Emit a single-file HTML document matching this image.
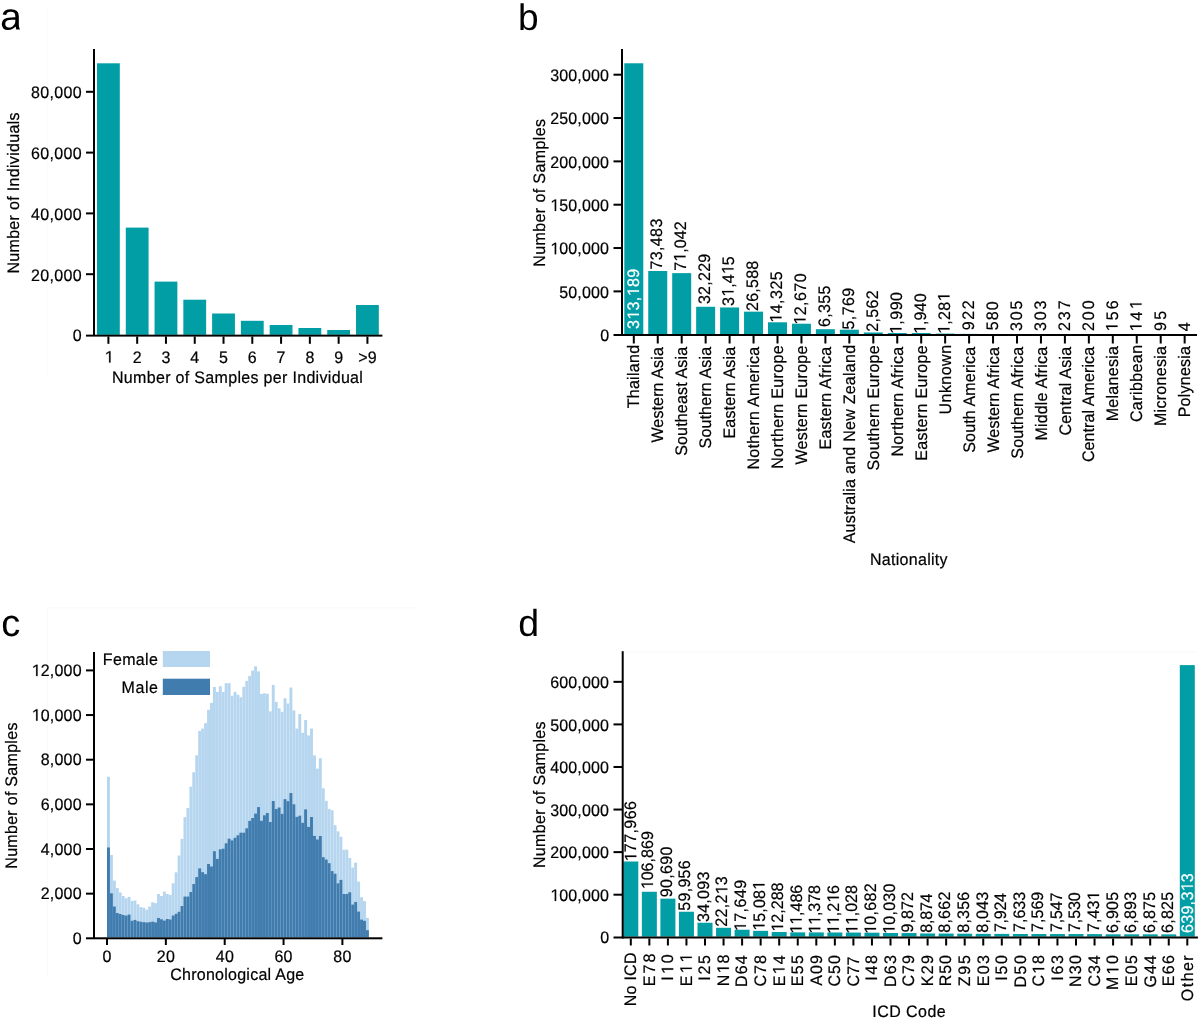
<!DOCTYPE html>
<html><head><meta charset="utf-8"><style>
html,body{margin:0;padding:0;background:#fff;}
svg{display:block;will-change:transform;}
text{font-family:"Liberation Sans",sans-serif;text-rendering:geometricPrecision;}
</style></head><body>
<svg width="1200" height="1020" viewBox="0 0 1200 1020">
<rect x="0" y="0" width="1200" height="1020" fill="#ffffff"/>
<rect x="46.60" y="6.00" width="1.00" height="370.50" fill="#fafafa"/>
<rect x="47.00" y="608.00" width="1.00" height="370.00" fill="#fafafa"/>
<rect x="47.50" y="607.40" width="370.50" height="1.00" fill="#f9f9f9"/>
<rect x="623.50" y="651.60" width="573.50" height="1.00" fill="#f7f7f7"/>
<path transform="translate(0.1,29.6) scale(0.019111,-0.018555)" d="M414 -20Q251 -20 169.0 66.0Q87 152 87 302Q87 470 197.5 560.0Q308 650 554 656L797 660V719Q797 851 741.0 908.0Q685 965 565 965Q444 965 389.0 924.0Q334 883 323 793L135 810Q181 1102 569 1102Q773 1102 876.0 1008.5Q979 915 979 738V250Q979 110 1040 0H850Q826 55 818 150H797Q728 83 636.5 31.5Q545 -20 414 -20ZM455 115Q554 115 631.0 160.0Q708 205 752.5 283.5Q797 362 797 445V534L600 530Q473 528 407.5 504.0Q342 480 307.0 430.0Q272 380 272 299Q272 211 319.5 163.0Q367 115 455 115Z"/>
<text x="517.9" y="29.6" font-size="37">b</text>
<text x="1.3" y="636.4" font-size="38">c</text>
<text x="518.3" y="635.7" font-size="37.5">d</text>
<rect x="97.00" y="63.30" width="22.80" height="271.50" fill="#029ea5"/>
<rect x="107.40" y="336.50" width="2.00" height="7.30" fill="#000"/>
<text transform="translate(104.55,362.60) scale(1,1.04)" font-size="16" fill="#000" stroke="#000" stroke-width="0.2" letter-spacing="0.300"> </text>
<path transform="translate(104.55,362.60) scale(1,1.04) translate(0.000,0) scale(0.007812,-0.007812)" d="M583 0L763 0L763 1409L598 1409L223 1180L223 1010L583 1237Z" fill="#000" stroke="#000" stroke-width="25.6"/>
<rect x="125.78" y="227.60" width="22.80" height="107.20" fill="#029ea5"/>
<rect x="136.18" y="336.50" width="2.00" height="7.30" fill="#000"/>
<text transform="translate(132.73,362.60) scale(1,1.04)" font-size="16" fill="#000" stroke="#000" stroke-width="0.2" letter-spacing="0.300">2</text>
<rect x="154.56" y="281.60" width="22.80" height="53.20" fill="#029ea5"/>
<rect x="164.96" y="336.50" width="2.00" height="7.30" fill="#000"/>
<text transform="translate(161.56,362.60) scale(1,1.04)" font-size="16" fill="#000" stroke="#000" stroke-width="0.2" letter-spacing="0.300">3</text>
<rect x="183.34" y="299.70" width="22.80" height="35.10" fill="#029ea5"/>
<rect x="193.74" y="336.50" width="2.00" height="7.30" fill="#000"/>
<text transform="translate(190.34,362.60) scale(1,1.04)" font-size="16" fill="#000" stroke="#000" stroke-width="0.2" letter-spacing="0.300">4</text>
<rect x="212.12" y="313.50" width="22.80" height="21.30" fill="#029ea5"/>
<rect x="222.52" y="336.50" width="2.00" height="7.30" fill="#000"/>
<text transform="translate(219.09,362.60) scale(1,1.04)" font-size="16" fill="#000" stroke="#000" stroke-width="0.2" letter-spacing="0.300">5</text>
<rect x="240.90" y="320.80" width="22.80" height="14.00" fill="#029ea5"/>
<rect x="251.30" y="336.50" width="2.00" height="7.30" fill="#000"/>
<text transform="translate(247.80,362.60) scale(1,1.04)" font-size="16" fill="#000" stroke="#000" stroke-width="0.2" letter-spacing="0.300">6</text>
<rect x="269.68" y="325.00" width="22.80" height="9.80" fill="#029ea5"/>
<rect x="280.08" y="336.50" width="2.00" height="7.30" fill="#000"/>
<text transform="translate(276.62,362.60) scale(1,1.04)" font-size="16" fill="#000" stroke="#000" stroke-width="0.2" letter-spacing="0.300">7</text>
<rect x="298.46" y="328.00" width="22.80" height="6.80" fill="#029ea5"/>
<rect x="308.86" y="336.50" width="2.00" height="7.30" fill="#000"/>
<text transform="translate(305.41,362.60) scale(1,1.04)" font-size="16" fill="#000" stroke="#000" stroke-width="0.2" letter-spacing="0.300">8</text>
<rect x="327.24" y="330.00" width="22.80" height="4.80" fill="#029ea5"/>
<rect x="337.64" y="336.50" width="2.00" height="7.30" fill="#000"/>
<text transform="translate(334.19,362.60) scale(1,1.04)" font-size="16" fill="#000" stroke="#000" stroke-width="0.2" letter-spacing="0.300">9</text>
<rect x="356.02" y="305.00" width="22.80" height="29.80" fill="#029ea5"/>
<rect x="366.42" y="336.50" width="2.00" height="7.30" fill="#000"/>
<text transform="translate(358.13,362.60) scale(1,1.04)" font-size="16" fill="#000" stroke="#000" stroke-width="0.2" letter-spacing="0.300">&gt;9</text>
<rect x="93.00" y="49.00" width="2.00" height="287.00" fill="#000"/>
<rect x="86.00" y="334.65" width="296.40" height="1.95" fill="#000"/>
<rect x="86.00" y="273.20" width="8.00" height="2.00" fill="#000"/>
<text transform="translate(30.94,280.50) scale(1,1.04)" font-size="16" fill="#000" stroke="#000" stroke-width="0.2" letter-spacing="0.350">20,000</text>
<rect x="86.00" y="212.40" width="8.00" height="2.00" fill="#000"/>
<text transform="translate(30.94,219.70) scale(1,1.04)" font-size="16" fill="#000" stroke="#000" stroke-width="0.2" letter-spacing="0.350">40,000</text>
<rect x="86.00" y="151.60" width="8.00" height="2.00" fill="#000"/>
<text transform="translate(30.94,158.90) scale(1,1.04)" font-size="16" fill="#000" stroke="#000" stroke-width="0.2" letter-spacing="0.350">60,000</text>
<rect x="86.00" y="90.80" width="8.00" height="2.00" fill="#000"/>
<text transform="translate(30.94,98.10) scale(1,1.04)" font-size="16" fill="#000" stroke="#000" stroke-width="0.2" letter-spacing="0.350">80,000</text>
<text transform="translate(72.73,341.30) scale(1,1.04)" font-size="16" fill="#000" stroke="#000" stroke-width="0.2">0</text>
<text transform="translate(111.99,382.70) scale(1,1.04)" font-size="16" fill="#000" stroke="#000" stroke-width="0.2" letter-spacing="0.319">Number of Samples per Individual</text>
<text transform="translate(18.60,273.61) rotate(-90) scale(1,1.04)" font-size="16" fill="#000" stroke="#000" stroke-width="0.2" letter-spacing="0.322">Number of Individuals</text>
<rect x="624.30" y="63.27" width="19.00" height="270.93" fill="#029ea5"/>
<rect x="632.80" y="336.00" width="2.00" height="7.50" fill="#000"/>
<text transform="translate(639.40,408.36) rotate(-90) scale(1,1.04)" font-size="16" fill="#000" stroke="#000" stroke-width="0.2" letter-spacing="0.288">Thailand</text>
<text transform="translate(639.00,329.01) rotate(-90) scale(1,1.04)" font-size="16" fill="#ffffff" stroke="#ffffff" stroke-width="0.2" letter-spacing="0.389">3 3, 89</text>
<path transform="translate(639.00,329.01) rotate(-90) scale(1,1.04) translate(9.287,0) scale(0.007812,-0.007812)" d="M583 0L763 0L763 1409L598 1409L223 1180L223 1010L583 1237Z" fill="#ffffff" stroke="#ffffff" stroke-width="25.6"/>
<path transform="translate(639.00,329.01) rotate(-90) scale(1,1.04) translate(32.695,0) scale(0.007812,-0.007812)" d="M583 0L763 0L763 1409L598 1409L223 1180L223 1010L583 1237Z" fill="#ffffff" stroke="#ffffff" stroke-width="25.6"/>
<rect x="648.25" y="271.01" width="19.00" height="63.19" fill="#029ea5"/>
<rect x="656.75" y="336.00" width="2.00" height="7.50" fill="#000"/>
<text transform="translate(663.35,442.57) rotate(-90) scale(1,1.04)" font-size="16" fill="#000" stroke="#000" stroke-width="0.2" letter-spacing="0.130">Western Asia</text>
<text transform="translate(661.50,269.62) rotate(-90) scale(1,1.04)" font-size="16" fill="#000" stroke="#000" stroke-width="0.2" letter-spacing="0.397">73,483</text>
<rect x="672.20" y="273.13" width="19.00" height="61.07" fill="#029ea5"/>
<rect x="680.70" y="336.00" width="2.00" height="7.50" fill="#000"/>
<text transform="translate(687.30,455.83) rotate(-90) scale(1,1.04)" font-size="16" fill="#000" stroke="#000" stroke-width="0.2" letter-spacing="0.169">Southeast Asia</text>
<text transform="translate(685.50,270.82) rotate(-90) scale(1,1.04)" font-size="16" fill="#000" stroke="#000" stroke-width="0.2" letter-spacing="0.098">7 ,042</text>
<path transform="translate(685.50,270.82) rotate(-90) scale(1,1.04) translate(8.996,0) scale(0.007812,-0.007812)" d="M583 0L763 0L763 1409L598 1409L223 1180L223 1010L583 1237Z" fill="#000" stroke="#000" stroke-width="25.6"/>
<rect x="696.15" y="306.77" width="19.00" height="27.43" fill="#029ea5"/>
<rect x="704.65" y="336.00" width="2.00" height="7.50" fill="#000"/>
<text transform="translate(711.25,448.43) rotate(-90) scale(1,1.04)" font-size="16" fill="#000" stroke="#000" stroke-width="0.2" letter-spacing="0.160">Southern Asia</text>
<text transform="translate(709.51,304.11) rotate(-90) scale(1,1.04)" font-size="16" fill="#000" stroke="#000" stroke-width="0.2" letter-spacing="0.286">32,229</text>
<rect x="720.10" y="307.47" width="19.00" height="26.73" fill="#029ea5"/>
<rect x="728.60" y="336.00" width="2.00" height="7.50" fill="#000"/>
<text transform="translate(735.20,438.51) rotate(-90) scale(1,1.04)" font-size="16" fill="#000" stroke="#000" stroke-width="0.2" letter-spacing="0.164">Eastern Asia</text>
<text transform="translate(733.51,305.91) rotate(-90) scale(1,1.04)" font-size="16" fill="#000" stroke="#000" stroke-width="0.2" letter-spacing="0.149">3 ,4 5</text>
<path transform="translate(733.51,305.91) rotate(-90) scale(1,1.04) translate(9.047,0) scale(0.007812,-0.007812)" d="M583 0L763 0L763 1409L598 1409L223 1180L223 1010L583 1237Z" fill="#000" stroke="#000" stroke-width="25.6"/>
<path transform="translate(733.51,305.91) rotate(-90) scale(1,1.04) translate(31.736,0) scale(0.007812,-0.007812)" d="M583 0L763 0L763 1409L598 1409L223 1180L223 1010L583 1237Z" fill="#000" stroke="#000" stroke-width="25.6"/>
<rect x="744.05" y="311.66" width="19.00" height="22.54" fill="#029ea5"/>
<rect x="752.55" y="336.00" width="2.00" height="7.50" fill="#000"/>
<text transform="translate(759.15,469.51) rotate(-90) scale(1,1.04)" font-size="16" fill="#000" stroke="#000" stroke-width="0.2" letter-spacing="0.248">Nothern America</text>
<text transform="translate(757.51,311.00) rotate(-90) scale(1,1.04)" font-size="16" fill="#000" stroke="#000" stroke-width="0.2" letter-spacing="0.252">26,588</text>
<rect x="768.00" y="322.28" width="19.00" height="11.92" fill="#029ea5"/>
<rect x="776.50" y="336.00" width="2.00" height="7.50" fill="#000"/>
<text transform="translate(783.10,468.81) rotate(-90) scale(1,1.04)" font-size="16" fill="#000" stroke="#000" stroke-width="0.2" letter-spacing="0.374">Northern Europe</text>
<text transform="translate(781.51,322.74) rotate(-90) scale(1,1.04)" font-size="16" fill="#000" stroke="#000" stroke-width="0.2" letter-spacing="0.495"> 4,325</text>
<path transform="translate(781.51,322.74) rotate(-90) scale(1,1.04) translate(0.000,0) scale(0.007812,-0.007812)" d="M583 0L763 0L763 1409L598 1409L223 1180L223 1010L583 1237Z" fill="#000" stroke="#000" stroke-width="25.6"/>
<rect x="791.95" y="323.72" width="19.00" height="10.48" fill="#029ea5"/>
<rect x="800.45" y="336.00" width="2.00" height="7.50" fill="#000"/>
<text transform="translate(807.05,464.57) rotate(-90) scale(1,1.04)" font-size="16" fill="#000" stroke="#000" stroke-width="0.2" letter-spacing="0.282">Western Europe</text>
<text transform="translate(805.52,324.74) rotate(-90) scale(1,1.04)" font-size="16" fill="#000" stroke="#000" stroke-width="0.2" letter-spacing="0.486"> 2,670</text>
<path transform="translate(805.52,324.74) rotate(-90) scale(1,1.04) translate(0.000,0) scale(0.007812,-0.007812)" d="M583 0L763 0L763 1409L598 1409L223 1180L223 1010L583 1237Z" fill="#000" stroke="#000" stroke-width="25.6"/>
<rect x="815.90" y="329.19" width="19.00" height="5.01" fill="#029ea5"/>
<rect x="824.40" y="336.00" width="2.00" height="7.50" fill="#000"/>
<text transform="translate(831.00,449.41) rotate(-90) scale(1,1.04)" font-size="16" fill="#000" stroke="#000" stroke-width="0.2" letter-spacing="0.225">Eastern Africa</text>
<text transform="translate(829.52,327.01) rotate(-90) scale(1,1.04)" font-size="16" fill="#000" stroke="#000" stroke-width="0.2" letter-spacing="0.361">6,355</text>
<rect x="839.85" y="329.70" width="19.00" height="4.50" fill="#029ea5"/>
<rect x="848.35" y="336.00" width="2.00" height="7.50" fill="#000"/>
<text transform="translate(854.95,543.33) rotate(-90) scale(1,1.04)" font-size="16" fill="#000" stroke="#000" stroke-width="0.2" letter-spacing="0.261">Australia and New Zealand</text>
<text transform="translate(853.52,329.44) rotate(-90) scale(1,1.04)" font-size="16" fill="#000" stroke="#000" stroke-width="0.2" letter-spacing="0.415">5,769</text>
<rect x="863.80" y="332.48" width="19.00" height="1.72" fill="#029ea5"/>
<rect x="872.30" y="336.00" width="2.00" height="7.50" fill="#000"/>
<text transform="translate(878.90,470.53) rotate(-90) scale(1,1.04)" font-size="16" fill="#000" stroke="#000" stroke-width="0.2" letter-spacing="0.304">Southern Europe</text>
<text transform="translate(877.52,331.70) rotate(-90) scale(1,1.04)" font-size="16" fill="#000" stroke="#000" stroke-width="0.2" letter-spacing="0.318">2,562</text>
<rect x="887.75" y="332.98" width="19.00" height="1.22" fill="#029ea5"/>
<rect x="896.25" y="336.00" width="2.00" height="7.50" fill="#000"/>
<text transform="translate(902.85,456.51) rotate(-90) scale(1,1.04)" font-size="16" fill="#000" stroke="#000" stroke-width="0.2" letter-spacing="0.208">Northern Africa</text>
<text transform="translate(901.52,334.04) rotate(-90) scale(1,1.04)" font-size="16" fill="#000" stroke="#000" stroke-width="0.2" letter-spacing="0.482"> ,990</text>
<path transform="translate(901.52,334.04) rotate(-90) scale(1,1.04) translate(0.000,0) scale(0.007812,-0.007812)" d="M583 0L763 0L763 1409L598 1409L223 1180L223 1010L583 1237Z" fill="#000" stroke="#000" stroke-width="25.6"/>
<rect x="911.70" y="333.02" width="19.00" height="1.18" fill="#029ea5"/>
<rect x="920.20" y="336.00" width="2.00" height="7.50" fill="#000"/>
<text transform="translate(926.80,460.81) rotate(-90) scale(1,1.04)" font-size="16" fill="#000" stroke="#000" stroke-width="0.2" letter-spacing="0.334">Eastern Europe</text>
<text transform="translate(925.53,334.04) rotate(-90) scale(1,1.04)" font-size="16" fill="#000" stroke="#000" stroke-width="0.2" letter-spacing="0.132"> ,940</text>
<path transform="translate(925.53,334.04) rotate(-90) scale(1,1.04) translate(0.000,0) scale(0.007812,-0.007812)" d="M583 0L763 0L763 1409L598 1409L223 1180L223 1010L583 1237Z" fill="#000" stroke="#000" stroke-width="25.6"/>
<rect x="935.65" y="333.59" width="19.00" height="0.61" fill="#029ea5"/>
<rect x="944.15" y="336.00" width="2.00" height="7.50" fill="#000"/>
<text transform="translate(950.75,414.53) rotate(-90) scale(1,1.04)" font-size="16" fill="#000" stroke="#000" stroke-width="0.2" letter-spacing="0.478">Unknown</text>
<text transform="translate(949.53,334.04) rotate(-90) scale(1,1.04)" font-size="16" fill="#000" stroke="#000" stroke-width="0.2" letter-spacing="0.360"> ,28 </text>
<path transform="translate(949.53,334.04) rotate(-90) scale(1,1.04) translate(0.000,0) scale(0.007812,-0.007812)" d="M583 0L763 0L763 1409L598 1409L223 1180L223 1010L583 1237Z" fill="#000" stroke="#000" stroke-width="25.6"/>
<path transform="translate(949.53,334.04) rotate(-90) scale(1,1.04) translate(32.582,0) scale(0.007812,-0.007812)" d="M583 0L763 0L763 1409L598 1409L223 1180L223 1010L583 1237Z" fill="#000" stroke="#000" stroke-width="25.6"/>
<rect x="959.60" y="333.90" width="19.00" height="0.30" fill="#029ea5"/>
<rect x="968.10" y="336.00" width="2.00" height="7.50" fill="#000"/>
<text transform="translate(974.70,452.73) rotate(-90) scale(1,1.04)" font-size="16" fill="#000" stroke="#000" stroke-width="0.2" letter-spacing="0.149">South America</text>
<text transform="translate(973.53,330.25) rotate(-90) scale(1,1.04)" font-size="16" fill="#000" stroke="#000" stroke-width="0.2" letter-spacing="1.580">922</text>
<rect x="983.55" y="334.20" width="19.00" height="0.00" fill="#029ea5"/>
<rect x="992.05" y="336.00" width="2.00" height="7.50" fill="#000"/>
<text transform="translate(998.65,452.57) rotate(-90) scale(1,1.04)" font-size="16" fill="#000" stroke="#000" stroke-width="0.2" letter-spacing="0.127">Western Africa</text>
<text transform="translate(997.53,330.14) rotate(-90) scale(1,1.04)" font-size="16" fill="#000" stroke="#000" stroke-width="0.2" letter-spacing="1.085">580</text>
<rect x="1007.50" y="334.44" width="19.00" height="-0.24" fill="#029ea5"/>
<rect x="1016.00" y="336.00" width="2.00" height="7.50" fill="#000"/>
<text transform="translate(1022.60,458.63) rotate(-90) scale(1,1.04)" font-size="16" fill="#000" stroke="#000" stroke-width="0.2" letter-spacing="0.168">Southern Africa</text>
<text transform="translate(1021.53,330.91) rotate(-90) scale(1,1.04)" font-size="16" fill="#000" stroke="#000" stroke-width="0.2" letter-spacing="1.843">305</text>
<rect x="1031.45" y="334.44" width="19.00" height="-0.24" fill="#029ea5"/>
<rect x="1039.95" y="336.00" width="2.00" height="7.50" fill="#000"/>
<text transform="translate(1046.55,440.51) rotate(-90) scale(1,1.04)" font-size="16" fill="#000" stroke="#000" stroke-width="0.2" letter-spacing="0.170">Middle Africa</text>
<text transform="translate(1045.54,330.91) rotate(-90) scale(1,1.04)" font-size="16" fill="#000" stroke="#000" stroke-width="0.2" letter-spacing="1.859">303</text>
<rect x="1055.40" y="334.49" width="19.00" height="-0.29" fill="#029ea5"/>
<rect x="1063.90" y="336.00" width="2.00" height="7.50" fill="#000"/>
<text transform="translate(1070.50,435.51) rotate(-90) scale(1,1.04)" font-size="16" fill="#000" stroke="#000" stroke-width="0.2" letter-spacing="0.215">Central Asia</text>
<text transform="translate(1069.54,331.10) rotate(-90) scale(1,1.04)" font-size="16" fill="#000" stroke="#000" stroke-width="0.2" letter-spacing="2.007">237</text>
<rect x="1079.35" y="334.53" width="19.00" height="-0.33" fill="#029ea5"/>
<rect x="1087.85" y="336.00" width="2.00" height="7.50" fill="#000"/>
<text transform="translate(1094.45,462.11) rotate(-90) scale(1,1.04)" font-size="16" fill="#000" stroke="#000" stroke-width="0.2" letter-spacing="0.101">Central America</text>
<text transform="translate(1093.54,331.10) rotate(-90) scale(1,1.04)" font-size="16" fill="#000" stroke="#000" stroke-width="0.2" letter-spacing="1.967">200</text>
<rect x="1103.30" y="334.56" width="19.00" height="-0.36" fill="#029ea5"/>
<rect x="1111.80" y="336.00" width="2.00" height="7.50" fill="#000"/>
<text transform="translate(1118.40,421.31) rotate(-90) scale(1,1.04)" font-size="16" fill="#000" stroke="#000" stroke-width="0.2" letter-spacing="0.298">Melanesia</text>
<text transform="translate(1117.54,331.44) rotate(-90) scale(1,1.04)" font-size="16" fill="#000" stroke="#000" stroke-width="0.2" letter-spacing="2.175"> 56</text>
<path transform="translate(1117.54,331.44) rotate(-90) scale(1,1.04) translate(0.000,0) scale(0.007812,-0.007812)" d="M583 0L763 0L763 1409L598 1409L223 1180L223 1010L583 1237Z" fill="#000" stroke="#000" stroke-width="25.6"/>
<rect x="1127.25" y="334.58" width="19.00" height="-0.38" fill="#029ea5"/>
<rect x="1135.75" y="336.00" width="2.00" height="7.50" fill="#000"/>
<text transform="translate(1142.35,422.11) rotate(-90) scale(1,1.04)" font-size="16" fill="#000" stroke="#000" stroke-width="0.2" letter-spacing="0.415">Caribbean</text>
<text transform="translate(1141.55,331.44) rotate(-90) scale(1,1.04)" font-size="16" fill="#000" stroke="#000" stroke-width="0.2" letter-spacing="2.142"> 4 </text>
<path transform="translate(1141.55,331.44) rotate(-90) scale(1,1.04) translate(0.000,0) scale(0.007812,-0.007812)" d="M583 0L763 0L763 1409L598 1409L223 1180L223 1010L583 1237Z" fill="#000" stroke="#000" stroke-width="25.6"/>
<path transform="translate(1141.55,331.44) rotate(-90) scale(1,1.04) translate(22.082,0) scale(0.007812,-0.007812)" d="M583 0L763 0L763 1409L598 1409L223 1180L223 1010L583 1237Z" fill="#000" stroke="#000" stroke-width="25.6"/>
<rect x="1151.20" y="334.62" width="19.00" height="-0.42" fill="#029ea5"/>
<rect x="1159.70" y="336.00" width="2.00" height="7.50" fill="#000"/>
<text transform="translate(1166.30,426.11) rotate(-90) scale(1,1.04)" font-size="16" fill="#000" stroke="#000" stroke-width="0.2" letter-spacing="0.306">Micronesia</text>
<text transform="translate(1165.55,331.05) rotate(-90) scale(1,1.04)" font-size="16" fill="#000" stroke="#000" stroke-width="0.2" letter-spacing="2.325">95</text>
<rect x="1175.15" y="334.70" width="19.00" height="-0.50" fill="#029ea5"/>
<rect x="1183.65" y="336.00" width="2.00" height="7.50" fill="#000"/>
<text transform="translate(1190.25,417.31) rotate(-90) scale(1,1.04)" font-size="16" fill="#000" stroke="#000" stroke-width="0.2" letter-spacing="0.242">Polynesia</text>
<text transform="translate(1189.55,331.17) rotate(-90) scale(1,1.04)" font-size="16" fill="#000" stroke="#000" stroke-width="0.2">4</text>
<rect x="621.00" y="49.00" width="2.00" height="287.00" fill="#000"/>
<rect x="613.50" y="334.00" width="583.50" height="2.00" fill="#000"/>
<rect x="613.50" y="290.37" width="8.50" height="2.00" fill="#000"/>
<text transform="translate(559.24,297.57) scale(1,1.04)" font-size="16" fill="#000" stroke="#000" stroke-width="0.2" letter-spacing="0.150">50,000</text>
<rect x="613.50" y="247.03" width="8.50" height="2.00" fill="#000"/>
<text transform="translate(550.19,254.23) scale(1,1.04)" font-size="16" fill="#000" stroke="#000" stroke-width="0.2" letter-spacing="0.150"> 00,000</text>
<path transform="translate(550.19,254.23) scale(1,1.04) translate(0.000,0) scale(0.007812,-0.007812)" d="M583 0L763 0L763 1409L598 1409L223 1180L223 1010L583 1237Z" fill="#000" stroke="#000" stroke-width="25.6"/>
<rect x="613.50" y="203.70" width="8.50" height="2.00" fill="#000"/>
<text transform="translate(550.19,210.90) scale(1,1.04)" font-size="16" fill="#000" stroke="#000" stroke-width="0.2" letter-spacing="0.150"> 50,000</text>
<path transform="translate(550.19,210.90) scale(1,1.04) translate(0.000,0) scale(0.007812,-0.007812)" d="M583 0L763 0L763 1409L598 1409L223 1180L223 1010L583 1237Z" fill="#000" stroke="#000" stroke-width="25.6"/>
<rect x="613.50" y="160.37" width="8.50" height="2.00" fill="#000"/>
<text transform="translate(550.19,167.57) scale(1,1.04)" font-size="16" fill="#000" stroke="#000" stroke-width="0.2" letter-spacing="0.150">200,000</text>
<rect x="613.50" y="117.03" width="8.50" height="2.00" fill="#000"/>
<text transform="translate(550.19,124.23) scale(1,1.04)" font-size="16" fill="#000" stroke="#000" stroke-width="0.2" letter-spacing="0.150">250,000</text>
<rect x="613.50" y="73.70" width="8.50" height="2.00" fill="#000"/>
<text transform="translate(550.19,80.90) scale(1,1.04)" font-size="16" fill="#000" stroke="#000" stroke-width="0.2" letter-spacing="0.150">300,000</text>
<text transform="translate(600.13,340.90) scale(1,1.04)" font-size="16" fill="#000" stroke="#000" stroke-width="0.2">0</text>
<text transform="translate(869.99,564.70) scale(1,1.04)" font-size="16" fill="#000" stroke="#000" stroke-width="0.2" letter-spacing="0.284">Nationality</text>
<text transform="translate(544.60,266.71) rotate(-90) scale(1,1.04)" font-size="16" fill="#000" stroke="#000" stroke-width="0.2" letter-spacing="0.394">Number of Samples</text>
<rect x="107.00" y="776.80" width="2.94" height="160.50" fill="#b6d6f0"/>
<rect x="109.94" y="855.00" width="2.94" height="82.30" fill="#b6d6f0"/>
<rect x="112.89" y="880.60" width="2.94" height="56.70" fill="#b6d6f0"/>
<rect x="115.83" y="888.10" width="2.94" height="49.20" fill="#b6d6f0"/>
<rect x="118.77" y="892.50" width="2.94" height="44.80" fill="#b6d6f0"/>
<rect x="121.71" y="896.00" width="2.94" height="41.30" fill="#b6d6f0"/>
<rect x="124.66" y="898.30" width="2.94" height="39.00" fill="#b6d6f0"/>
<rect x="127.60" y="896.90" width="2.94" height="40.40" fill="#b6d6f0"/>
<rect x="130.54" y="900.90" width="2.94" height="36.40" fill="#b6d6f0"/>
<rect x="133.48" y="900.50" width="2.94" height="36.80" fill="#b6d6f0"/>
<rect x="136.43" y="904.30" width="2.94" height="33.00" fill="#b6d6f0"/>
<rect x="139.37" y="907.10" width="2.94" height="30.20" fill="#b6d6f0"/>
<rect x="142.31" y="907.80" width="2.94" height="29.50" fill="#b6d6f0"/>
<rect x="145.25" y="909.70" width="2.94" height="27.60" fill="#b6d6f0"/>
<rect x="148.19" y="906.60" width="2.94" height="30.70" fill="#b6d6f0"/>
<rect x="151.14" y="902.20" width="2.94" height="35.10" fill="#b6d6f0"/>
<rect x="154.08" y="903.10" width="2.94" height="34.20" fill="#b6d6f0"/>
<rect x="157.02" y="894.00" width="2.94" height="43.30" fill="#b6d6f0"/>
<rect x="159.97" y="896.00" width="2.94" height="41.30" fill="#b6d6f0"/>
<rect x="162.91" y="891.60" width="2.94" height="45.70" fill="#b6d6f0"/>
<rect x="165.85" y="894.00" width="2.94" height="43.30" fill="#b6d6f0"/>
<rect x="168.79" y="895.00" width="2.94" height="42.30" fill="#b6d6f0"/>
<rect x="171.74" y="883.30" width="2.94" height="54.00" fill="#b6d6f0"/>
<rect x="174.68" y="872.30" width="2.94" height="65.00" fill="#b6d6f0"/>
<rect x="177.62" y="855.50" width="2.94" height="81.80" fill="#b6d6f0"/>
<rect x="180.56" y="838.90" width="2.94" height="98.40" fill="#b6d6f0"/>
<rect x="183.50" y="817.20" width="2.94" height="120.10" fill="#b6d6f0"/>
<rect x="186.45" y="808.00" width="2.94" height="129.30" fill="#b6d6f0"/>
<rect x="189.39" y="786.70" width="2.94" height="150.60" fill="#b6d6f0"/>
<rect x="192.33" y="772.20" width="2.94" height="165.10" fill="#b6d6f0"/>
<rect x="195.27" y="755.30" width="2.94" height="182.00" fill="#b6d6f0"/>
<rect x="198.22" y="730.90" width="2.94" height="206.40" fill="#b6d6f0"/>
<rect x="201.16" y="728.60" width="2.94" height="208.70" fill="#b6d6f0"/>
<rect x="204.10" y="723.10" width="2.94" height="214.20" fill="#b6d6f0"/>
<rect x="207.05" y="709.80" width="2.94" height="227.50" fill="#b6d6f0"/>
<rect x="209.99" y="702.90" width="2.94" height="234.40" fill="#b6d6f0"/>
<rect x="212.93" y="687.00" width="2.94" height="250.30" fill="#b6d6f0"/>
<rect x="215.87" y="691.90" width="2.94" height="245.40" fill="#b6d6f0"/>
<rect x="218.81" y="686.20" width="2.94" height="251.10" fill="#b6d6f0"/>
<rect x="221.76" y="691.90" width="2.94" height="245.40" fill="#b6d6f0"/>
<rect x="224.70" y="683.20" width="2.94" height="254.10" fill="#b6d6f0"/>
<rect x="227.64" y="683.20" width="2.94" height="254.10" fill="#b6d6f0"/>
<rect x="230.58" y="695.80" width="2.94" height="241.50" fill="#b6d6f0"/>
<rect x="233.53" y="691.90" width="2.94" height="245.40" fill="#b6d6f0"/>
<rect x="236.47" y="694.80" width="2.94" height="242.50" fill="#b6d6f0"/>
<rect x="239.41" y="697.30" width="2.94" height="240.00" fill="#b6d6f0"/>
<rect x="242.35" y="686.80" width="2.94" height="250.50" fill="#b6d6f0"/>
<rect x="245.30" y="680.90" width="2.94" height="256.40" fill="#b6d6f0"/>
<rect x="248.24" y="675.90" width="2.94" height="261.40" fill="#b6d6f0"/>
<rect x="251.18" y="670.60" width="2.94" height="266.70" fill="#b6d6f0"/>
<rect x="254.12" y="666.20" width="2.94" height="271.10" fill="#b6d6f0"/>
<rect x="257.07" y="671.40" width="2.94" height="265.90" fill="#b6d6f0"/>
<rect x="260.01" y="694.00" width="2.94" height="243.30" fill="#b6d6f0"/>
<rect x="262.95" y="693.20" width="2.94" height="244.10" fill="#b6d6f0"/>
<rect x="265.89" y="693.90" width="2.94" height="243.40" fill="#b6d6f0"/>
<rect x="268.84" y="711.40" width="2.94" height="225.90" fill="#b6d6f0"/>
<rect x="271.78" y="685.00" width="2.94" height="252.30" fill="#b6d6f0"/>
<rect x="274.72" y="701.90" width="2.94" height="235.40" fill="#b6d6f0"/>
<rect x="277.66" y="708.30" width="2.94" height="229.00" fill="#b6d6f0"/>
<rect x="280.61" y="711.80" width="2.94" height="225.50" fill="#b6d6f0"/>
<rect x="283.55" y="698.30" width="2.94" height="239.00" fill="#b6d6f0"/>
<rect x="286.49" y="703.50" width="2.94" height="233.80" fill="#b6d6f0"/>
<rect x="289.44" y="687.50" width="2.94" height="249.80" fill="#b6d6f0"/>
<rect x="292.38" y="710.40" width="2.94" height="226.90" fill="#b6d6f0"/>
<rect x="295.32" y="728.60" width="2.94" height="208.70" fill="#b6d6f0"/>
<rect x="298.26" y="714.10" width="2.94" height="223.20" fill="#b6d6f0"/>
<rect x="301.20" y="732.80" width="2.94" height="204.50" fill="#b6d6f0"/>
<rect x="304.15" y="720.00" width="2.94" height="217.30" fill="#b6d6f0"/>
<rect x="307.09" y="735.40" width="2.94" height="201.90" fill="#b6d6f0"/>
<rect x="310.03" y="728.60" width="2.94" height="208.70" fill="#b6d6f0"/>
<rect x="312.98" y="755.40" width="2.94" height="181.90" fill="#b6d6f0"/>
<rect x="315.92" y="768.70" width="2.94" height="168.60" fill="#b6d6f0"/>
<rect x="318.86" y="758.20" width="2.94" height="179.10" fill="#b6d6f0"/>
<rect x="321.80" y="788.30" width="2.94" height="149.00" fill="#b6d6f0"/>
<rect x="324.75" y="800.90" width="2.94" height="136.40" fill="#b6d6f0"/>
<rect x="327.69" y="809.00" width="2.94" height="128.30" fill="#b6d6f0"/>
<rect x="330.63" y="810.30" width="2.94" height="127.00" fill="#b6d6f0"/>
<rect x="333.57" y="825.20" width="2.94" height="112.10" fill="#b6d6f0"/>
<rect x="336.51" y="831.40" width="2.94" height="105.90" fill="#b6d6f0"/>
<rect x="339.46" y="836.70" width="2.94" height="100.60" fill="#b6d6f0"/>
<rect x="342.40" y="849.90" width="2.94" height="87.40" fill="#b6d6f0"/>
<rect x="345.34" y="849.60" width="2.94" height="87.70" fill="#b6d6f0"/>
<rect x="348.28" y="857.90" width="2.94" height="79.40" fill="#b6d6f0"/>
<rect x="351.23" y="867.60" width="2.94" height="69.70" fill="#b6d6f0"/>
<rect x="354.17" y="862.60" width="2.94" height="74.70" fill="#b6d6f0"/>
<rect x="357.11" y="881.70" width="2.94" height="55.60" fill="#b6d6f0"/>
<rect x="360.05" y="897.20" width="2.94" height="40.10" fill="#b6d6f0"/>
<rect x="363.00" y="901.10" width="2.94" height="36.20" fill="#b6d6f0"/>
<rect x="365.94" y="917.80" width="2.94" height="19.50" fill="#b6d6f0"/>
<rect x="107.00" y="847.50" width="2.94" height="89.80" fill="#407cae"/>
<rect x="109.94" y="893.30" width="2.94" height="44.00" fill="#407cae"/>
<rect x="112.89" y="906.50" width="2.94" height="30.80" fill="#407cae"/>
<rect x="115.83" y="913.00" width="2.94" height="24.30" fill="#407cae"/>
<rect x="118.77" y="914.00" width="2.94" height="23.30" fill="#407cae"/>
<rect x="121.71" y="915.00" width="2.94" height="22.30" fill="#407cae"/>
<rect x="124.66" y="915.60" width="2.94" height="21.70" fill="#407cae"/>
<rect x="127.60" y="914.60" width="2.94" height="22.70" fill="#407cae"/>
<rect x="130.54" y="920.80" width="2.94" height="16.50" fill="#407cae"/>
<rect x="133.48" y="919.90" width="2.94" height="17.40" fill="#407cae"/>
<rect x="136.43" y="921.20" width="2.94" height="16.10" fill="#407cae"/>
<rect x="139.37" y="921.80" width="2.94" height="15.50" fill="#407cae"/>
<rect x="142.31" y="922.20" width="2.94" height="15.10" fill="#407cae"/>
<rect x="145.25" y="922.50" width="2.94" height="14.80" fill="#407cae"/>
<rect x="148.19" y="922.20" width="2.94" height="15.10" fill="#407cae"/>
<rect x="151.14" y="921.70" width="2.94" height="15.60" fill="#407cae"/>
<rect x="154.08" y="922.40" width="2.94" height="14.90" fill="#407cae"/>
<rect x="157.02" y="918.00" width="2.94" height="19.30" fill="#407cae"/>
<rect x="159.97" y="919.30" width="2.94" height="18.00" fill="#407cae"/>
<rect x="162.91" y="920.60" width="2.94" height="16.70" fill="#407cae"/>
<rect x="165.85" y="919.00" width="2.94" height="18.30" fill="#407cae"/>
<rect x="168.79" y="919.50" width="2.94" height="17.80" fill="#407cae"/>
<rect x="171.74" y="915.50" width="2.94" height="21.80" fill="#407cae"/>
<rect x="174.68" y="913.80" width="2.94" height="23.50" fill="#407cae"/>
<rect x="177.62" y="911.80" width="2.94" height="25.50" fill="#407cae"/>
<rect x="180.56" y="906.00" width="2.94" height="31.30" fill="#407cae"/>
<rect x="183.50" y="896.60" width="2.94" height="40.70" fill="#407cae"/>
<rect x="186.45" y="896.60" width="2.94" height="40.70" fill="#407cae"/>
<rect x="189.39" y="892.00" width="2.94" height="45.30" fill="#407cae"/>
<rect x="192.33" y="884.00" width="2.94" height="53.30" fill="#407cae"/>
<rect x="195.27" y="877.10" width="2.94" height="60.20" fill="#407cae"/>
<rect x="198.22" y="868.40" width="2.94" height="68.90" fill="#407cae"/>
<rect x="201.16" y="872.20" width="2.94" height="65.10" fill="#407cae"/>
<rect x="204.10" y="874.20" width="2.94" height="63.10" fill="#407cae"/>
<rect x="207.05" y="864.00" width="2.94" height="73.30" fill="#407cae"/>
<rect x="209.99" y="866.50" width="2.94" height="70.80" fill="#407cae"/>
<rect x="212.93" y="851.20" width="2.94" height="86.10" fill="#407cae"/>
<rect x="215.87" y="858.90" width="2.94" height="78.40" fill="#407cae"/>
<rect x="218.81" y="849.30" width="2.94" height="88.00" fill="#407cae"/>
<rect x="221.76" y="848.70" width="2.94" height="88.60" fill="#407cae"/>
<rect x="224.70" y="843.30" width="2.94" height="94.00" fill="#407cae"/>
<rect x="227.64" y="838.70" width="2.94" height="98.60" fill="#407cae"/>
<rect x="230.58" y="840.40" width="2.94" height="96.90" fill="#407cae"/>
<rect x="233.53" y="837.80" width="2.94" height="99.50" fill="#407cae"/>
<rect x="236.47" y="835.30" width="2.94" height="102.00" fill="#407cae"/>
<rect x="239.41" y="832.70" width="2.94" height="104.60" fill="#407cae"/>
<rect x="242.35" y="832.70" width="2.94" height="104.60" fill="#407cae"/>
<rect x="245.30" y="828.30" width="2.94" height="109.00" fill="#407cae"/>
<rect x="248.24" y="820.90" width="2.94" height="116.40" fill="#407cae"/>
<rect x="251.18" y="818.00" width="2.94" height="119.30" fill="#407cae"/>
<rect x="254.12" y="813.60" width="2.94" height="123.70" fill="#407cae"/>
<rect x="257.07" y="807.10" width="2.94" height="130.20" fill="#407cae"/>
<rect x="260.01" y="820.80" width="2.94" height="116.50" fill="#407cae"/>
<rect x="262.95" y="815.30" width="2.94" height="122.00" fill="#407cae"/>
<rect x="265.89" y="813.00" width="2.94" height="124.30" fill="#407cae"/>
<rect x="268.84" y="822.00" width="2.94" height="115.30" fill="#407cae"/>
<rect x="271.78" y="801.00" width="2.94" height="136.30" fill="#407cae"/>
<rect x="274.72" y="809.00" width="2.94" height="128.30" fill="#407cae"/>
<rect x="277.66" y="807.50" width="2.94" height="129.80" fill="#407cae"/>
<rect x="280.61" y="813.90" width="2.94" height="123.40" fill="#407cae"/>
<rect x="283.55" y="799.20" width="2.94" height="138.10" fill="#407cae"/>
<rect x="286.49" y="801.20" width="2.94" height="136.10" fill="#407cae"/>
<rect x="289.44" y="793.00" width="2.94" height="144.30" fill="#407cae"/>
<rect x="292.38" y="804.30" width="2.94" height="133.00" fill="#407cae"/>
<rect x="295.32" y="816.90" width="2.94" height="120.40" fill="#407cae"/>
<rect x="298.26" y="815.70" width="2.94" height="121.60" fill="#407cae"/>
<rect x="301.20" y="822.80" width="2.94" height="114.50" fill="#407cae"/>
<rect x="304.15" y="809.40" width="2.94" height="127.90" fill="#407cae"/>
<rect x="307.09" y="826.90" width="2.94" height="110.40" fill="#407cae"/>
<rect x="310.03" y="817.00" width="2.94" height="120.30" fill="#407cae"/>
<rect x="312.98" y="835.90" width="2.94" height="101.40" fill="#407cae"/>
<rect x="315.92" y="839.50" width="2.94" height="97.80" fill="#407cae"/>
<rect x="318.86" y="836.00" width="2.94" height="101.30" fill="#407cae"/>
<rect x="321.80" y="857.20" width="2.94" height="80.10" fill="#407cae"/>
<rect x="324.75" y="859.60" width="2.94" height="77.70" fill="#407cae"/>
<rect x="327.69" y="863.20" width="2.94" height="74.10" fill="#407cae"/>
<rect x="330.63" y="871.10" width="2.94" height="66.20" fill="#407cae"/>
<rect x="333.57" y="873.70" width="2.94" height="63.60" fill="#407cae"/>
<rect x="336.51" y="883.40" width="2.94" height="53.90" fill="#407cae"/>
<rect x="339.46" y="879.90" width="2.94" height="57.40" fill="#407cae"/>
<rect x="342.40" y="894.00" width="2.94" height="43.30" fill="#407cae"/>
<rect x="345.34" y="894.00" width="2.94" height="43.30" fill="#407cae"/>
<rect x="348.28" y="892.30" width="2.94" height="45.00" fill="#407cae"/>
<rect x="351.23" y="904.60" width="2.94" height="32.70" fill="#407cae"/>
<rect x="354.17" y="902.00" width="2.94" height="35.30" fill="#407cae"/>
<rect x="357.11" y="911.60" width="2.94" height="25.70" fill="#407cae"/>
<rect x="360.05" y="919.60" width="2.94" height="17.70" fill="#407cae"/>
<rect x="363.00" y="920.80" width="2.94" height="16.50" fill="#407cae"/>
<rect x="365.94" y="930.20" width="2.94" height="7.10" fill="#407cae"/>
<rect x="109.69" y="855.00" width="0.50" height="82.30" fill="#ffffff" fill-opacity="0.08"/>
<rect x="112.64" y="880.60" width="0.50" height="56.70" fill="#ffffff" fill-opacity="0.08"/>
<rect x="115.58" y="888.10" width="0.50" height="49.20" fill="#ffffff" fill-opacity="0.08"/>
<rect x="118.52" y="892.50" width="0.50" height="44.80" fill="#ffffff" fill-opacity="0.08"/>
<rect x="121.46" y="896.00" width="0.50" height="41.30" fill="#ffffff" fill-opacity="0.08"/>
<rect x="124.41" y="898.30" width="0.50" height="39.00" fill="#ffffff" fill-opacity="0.08"/>
<rect x="127.35" y="898.30" width="0.50" height="39.00" fill="#ffffff" fill-opacity="0.08"/>
<rect x="130.29" y="900.90" width="0.50" height="36.40" fill="#ffffff" fill-opacity="0.08"/>
<rect x="133.23" y="900.90" width="0.50" height="36.40" fill="#ffffff" fill-opacity="0.08"/>
<rect x="136.18" y="904.30" width="0.50" height="33.00" fill="#ffffff" fill-opacity="0.08"/>
<rect x="139.12" y="907.10" width="0.50" height="30.20" fill="#ffffff" fill-opacity="0.08"/>
<rect x="142.06" y="907.80" width="0.50" height="29.50" fill="#ffffff" fill-opacity="0.08"/>
<rect x="145.00" y="909.70" width="0.50" height="27.60" fill="#ffffff" fill-opacity="0.08"/>
<rect x="147.94" y="909.70" width="0.50" height="27.60" fill="#ffffff" fill-opacity="0.08"/>
<rect x="150.89" y="906.60" width="0.50" height="30.70" fill="#ffffff" fill-opacity="0.08"/>
<rect x="153.83" y="903.10" width="0.50" height="34.20" fill="#ffffff" fill-opacity="0.08"/>
<rect x="156.77" y="903.10" width="0.50" height="34.20" fill="#ffffff" fill-opacity="0.08"/>
<rect x="159.72" y="896.00" width="0.50" height="41.30" fill="#ffffff" fill-opacity="0.08"/>
<rect x="162.66" y="896.00" width="0.50" height="41.30" fill="#ffffff" fill-opacity="0.08"/>
<rect x="165.60" y="894.00" width="0.50" height="43.30" fill="#ffffff" fill-opacity="0.08"/>
<rect x="168.54" y="895.00" width="0.50" height="42.30" fill="#ffffff" fill-opacity="0.08"/>
<rect x="171.49" y="895.00" width="0.50" height="42.30" fill="#ffffff" fill-opacity="0.08"/>
<rect x="174.43" y="883.30" width="0.50" height="54.00" fill="#ffffff" fill-opacity="0.08"/>
<rect x="177.37" y="872.30" width="0.50" height="65.00" fill="#ffffff" fill-opacity="0.08"/>
<rect x="180.31" y="855.50" width="0.50" height="81.80" fill="#ffffff" fill-opacity="0.08"/>
<rect x="183.25" y="838.90" width="0.50" height="98.40" fill="#ffffff" fill-opacity="0.08"/>
<rect x="186.20" y="817.20" width="0.50" height="120.10" fill="#ffffff" fill-opacity="0.08"/>
<rect x="189.14" y="808.00" width="0.50" height="129.30" fill="#ffffff" fill-opacity="0.08"/>
<rect x="192.08" y="786.70" width="0.50" height="150.60" fill="#ffffff" fill-opacity="0.08"/>
<rect x="195.02" y="772.20" width="0.50" height="165.10" fill="#ffffff" fill-opacity="0.08"/>
<rect x="197.97" y="755.30" width="0.50" height="182.00" fill="#ffffff" fill-opacity="0.08"/>
<rect x="200.91" y="730.90" width="0.50" height="206.40" fill="#ffffff" fill-opacity="0.08"/>
<rect x="203.85" y="728.60" width="0.50" height="208.70" fill="#ffffff" fill-opacity="0.08"/>
<rect x="206.80" y="723.10" width="0.50" height="214.20" fill="#ffffff" fill-opacity="0.08"/>
<rect x="209.74" y="709.80" width="0.50" height="227.50" fill="#ffffff" fill-opacity="0.08"/>
<rect x="212.68" y="702.90" width="0.50" height="234.40" fill="#ffffff" fill-opacity="0.08"/>
<rect x="215.62" y="691.90" width="0.50" height="245.40" fill="#ffffff" fill-opacity="0.08"/>
<rect x="218.56" y="691.90" width="0.50" height="245.40" fill="#ffffff" fill-opacity="0.08"/>
<rect x="221.51" y="691.90" width="0.50" height="245.40" fill="#ffffff" fill-opacity="0.08"/>
<rect x="224.45" y="691.90" width="0.50" height="245.40" fill="#ffffff" fill-opacity="0.08"/>
<rect x="227.39" y="683.20" width="0.50" height="254.10" fill="#ffffff" fill-opacity="0.08"/>
<rect x="230.33" y="695.80" width="0.50" height="241.50" fill="#ffffff" fill-opacity="0.08"/>
<rect x="233.28" y="695.80" width="0.50" height="241.50" fill="#ffffff" fill-opacity="0.08"/>
<rect x="236.22" y="694.80" width="0.50" height="242.50" fill="#ffffff" fill-opacity="0.08"/>
<rect x="239.16" y="697.30" width="0.50" height="240.00" fill="#ffffff" fill-opacity="0.08"/>
<rect x="242.10" y="697.30" width="0.50" height="240.00" fill="#ffffff" fill-opacity="0.08"/>
<rect x="245.05" y="686.80" width="0.50" height="250.50" fill="#ffffff" fill-opacity="0.08"/>
<rect x="247.99" y="680.90" width="0.50" height="256.40" fill="#ffffff" fill-opacity="0.08"/>
<rect x="250.93" y="675.90" width="0.50" height="261.40" fill="#ffffff" fill-opacity="0.08"/>
<rect x="253.88" y="670.60" width="0.50" height="266.70" fill="#ffffff" fill-opacity="0.08"/>
<rect x="256.82" y="671.40" width="0.50" height="265.90" fill="#ffffff" fill-opacity="0.08"/>
<rect x="259.76" y="694.00" width="0.50" height="243.30" fill="#ffffff" fill-opacity="0.08"/>
<rect x="262.70" y="694.00" width="0.50" height="243.30" fill="#ffffff" fill-opacity="0.08"/>
<rect x="265.64" y="693.90" width="0.50" height="243.40" fill="#ffffff" fill-opacity="0.08"/>
<rect x="268.59" y="711.40" width="0.50" height="225.90" fill="#ffffff" fill-opacity="0.08"/>
<rect x="271.53" y="711.40" width="0.50" height="225.90" fill="#ffffff" fill-opacity="0.08"/>
<rect x="274.47" y="701.90" width="0.50" height="235.40" fill="#ffffff" fill-opacity="0.08"/>
<rect x="277.41" y="708.30" width="0.50" height="229.00" fill="#ffffff" fill-opacity="0.08"/>
<rect x="280.36" y="711.80" width="0.50" height="225.50" fill="#ffffff" fill-opacity="0.08"/>
<rect x="283.30" y="711.80" width="0.50" height="225.50" fill="#ffffff" fill-opacity="0.08"/>
<rect x="286.24" y="703.50" width="0.50" height="233.80" fill="#ffffff" fill-opacity="0.08"/>
<rect x="289.19" y="703.50" width="0.50" height="233.80" fill="#ffffff" fill-opacity="0.08"/>
<rect x="292.13" y="710.40" width="0.50" height="226.90" fill="#ffffff" fill-opacity="0.08"/>
<rect x="295.07" y="728.60" width="0.50" height="208.70" fill="#ffffff" fill-opacity="0.08"/>
<rect x="298.01" y="728.60" width="0.50" height="208.70" fill="#ffffff" fill-opacity="0.08"/>
<rect x="300.95" y="732.80" width="0.50" height="204.50" fill="#ffffff" fill-opacity="0.08"/>
<rect x="303.90" y="732.80" width="0.50" height="204.50" fill="#ffffff" fill-opacity="0.08"/>
<rect x="306.84" y="735.40" width="0.50" height="201.90" fill="#ffffff" fill-opacity="0.08"/>
<rect x="309.78" y="735.40" width="0.50" height="201.90" fill="#ffffff" fill-opacity="0.08"/>
<rect x="312.73" y="755.40" width="0.50" height="181.90" fill="#ffffff" fill-opacity="0.08"/>
<rect x="315.67" y="768.70" width="0.50" height="168.60" fill="#ffffff" fill-opacity="0.08"/>
<rect x="318.61" y="768.70" width="0.50" height="168.60" fill="#ffffff" fill-opacity="0.08"/>
<rect x="321.55" y="788.30" width="0.50" height="149.00" fill="#ffffff" fill-opacity="0.08"/>
<rect x="324.50" y="800.90" width="0.50" height="136.40" fill="#ffffff" fill-opacity="0.08"/>
<rect x="327.44" y="809.00" width="0.50" height="128.30" fill="#ffffff" fill-opacity="0.08"/>
<rect x="330.38" y="810.30" width="0.50" height="127.00" fill="#ffffff" fill-opacity="0.08"/>
<rect x="333.32" y="825.20" width="0.50" height="112.10" fill="#ffffff" fill-opacity="0.08"/>
<rect x="336.26" y="831.40" width="0.50" height="105.90" fill="#ffffff" fill-opacity="0.08"/>
<rect x="339.21" y="836.70" width="0.50" height="100.60" fill="#ffffff" fill-opacity="0.08"/>
<rect x="342.15" y="849.90" width="0.50" height="87.40" fill="#ffffff" fill-opacity="0.08"/>
<rect x="345.09" y="849.90" width="0.50" height="87.40" fill="#ffffff" fill-opacity="0.08"/>
<rect x="348.03" y="857.90" width="0.50" height="79.40" fill="#ffffff" fill-opacity="0.08"/>
<rect x="350.98" y="867.60" width="0.50" height="69.70" fill="#ffffff" fill-opacity="0.08"/>
<rect x="353.92" y="867.60" width="0.50" height="69.70" fill="#ffffff" fill-opacity="0.08"/>
<rect x="356.86" y="881.70" width="0.50" height="55.60" fill="#ffffff" fill-opacity="0.08"/>
<rect x="359.80" y="897.20" width="0.50" height="40.10" fill="#ffffff" fill-opacity="0.08"/>
<rect x="362.75" y="901.10" width="0.50" height="36.20" fill="#ffffff" fill-opacity="0.08"/>
<rect x="365.69" y="917.80" width="0.50" height="19.50" fill="#ffffff" fill-opacity="0.08"/>
<rect x="93.00" y="652.00" width="2.00" height="287.00" fill="#000"/>
<rect x="86.00" y="937.30" width="296.40" height="2.00" fill="#000"/>
<rect x="86.00" y="892.65" width="8.00" height="2.00" fill="#000"/>
<text transform="translate(40.69,899.35) scale(1,1.04)" font-size="16" fill="#000" stroke="#000" stroke-width="0.2" letter-spacing="0.200">2,000</text>
<rect x="86.00" y="848.00" width="8.00" height="2.00" fill="#000"/>
<text transform="translate(40.69,854.70) scale(1,1.04)" font-size="16" fill="#000" stroke="#000" stroke-width="0.2" letter-spacing="0.200">4,000</text>
<rect x="86.00" y="803.35" width="8.00" height="2.00" fill="#000"/>
<text transform="translate(40.69,810.05) scale(1,1.04)" font-size="16" fill="#000" stroke="#000" stroke-width="0.2" letter-spacing="0.200">6,000</text>
<rect x="86.00" y="758.70" width="8.00" height="2.00" fill="#000"/>
<text transform="translate(40.69,765.40) scale(1,1.04)" font-size="16" fill="#000" stroke="#000" stroke-width="0.2" letter-spacing="0.200">8,000</text>
<rect x="86.00" y="714.05" width="8.00" height="2.00" fill="#000"/>
<text transform="translate(31.59,720.75) scale(1,1.04)" font-size="16" fill="#000" stroke="#000" stroke-width="0.2" letter-spacing="0.200"> 0,000</text>
<path transform="translate(31.59,720.75) scale(1,1.04) translate(0.000,0) scale(0.007812,-0.007812)" d="M583 0L763 0L763 1409L598 1409L223 1180L223 1010L583 1237Z" fill="#000" stroke="#000" stroke-width="25.6"/>
<rect x="86.00" y="669.40" width="8.00" height="2.00" fill="#000"/>
<text transform="translate(31.59,676.10) scale(1,1.04)" font-size="16" fill="#000" stroke="#000" stroke-width="0.2" letter-spacing="0.200"> 2,000</text>
<path transform="translate(31.59,676.10) scale(1,1.04) translate(0.000,0) scale(0.007812,-0.007812)" d="M583 0L763 0L763 1409L598 1409L223 1180L223 1010L583 1237Z" fill="#000" stroke="#000" stroke-width="25.6"/>
<text transform="translate(72.63,943.70) scale(1,1.04)" font-size="16" fill="#000" stroke="#000" stroke-width="0.2">0</text>
<rect x="106.00" y="939.00" width="2.00" height="6.00" fill="#000"/>
<text transform="translate(102.55,961.60) scale(1,1.04)" font-size="16" fill="#000" stroke="#000" stroke-width="0.2" letter-spacing="0.300">0</text>
<rect x="164.85" y="939.00" width="2.00" height="6.00" fill="#000"/>
<text transform="translate(156.71,961.60) scale(1,1.04)" font-size="16" fill="#000" stroke="#000" stroke-width="0.2" letter-spacing="0.300">20</text>
<rect x="223.70" y="939.00" width="2.00" height="6.00" fill="#000"/>
<text transform="translate(215.78,961.60) scale(1,1.04)" font-size="16" fill="#000" stroke="#000" stroke-width="0.2" letter-spacing="0.300">40</text>
<rect x="282.55" y="939.00" width="2.00" height="6.00" fill="#000"/>
<text transform="translate(274.41,961.60) scale(1,1.04)" font-size="16" fill="#000" stroke="#000" stroke-width="0.2" letter-spacing="0.300">60</text>
<rect x="341.40" y="939.00" width="2.00" height="6.00" fill="#000"/>
<text transform="translate(333.32,961.60) scale(1,1.04)" font-size="16" fill="#000" stroke="#000" stroke-width="0.2" letter-spacing="0.300">80</text>
<text transform="translate(170.19,979.60) scale(1,1.04)" font-size="16" fill="#000" stroke="#000" stroke-width="0.2" letter-spacing="0.261">Chronological Age</text>
<text transform="translate(16.70,868.71) rotate(-90) scale(1,1.04)" font-size="16" fill="#000" stroke="#000" stroke-width="0.2" letter-spacing="0.294">Number of Samples</text>
<rect x="162.80" y="651.00" width="47.20" height="16.00" fill="#b6d6f0"/>
<rect x="162.80" y="678.70" width="47.20" height="16.30" fill="#407cae"/>
<text transform="translate(102.79,665.10) scale(1,1.04)" font-size="16" fill="#000" stroke="#000" stroke-width="0.2" letter-spacing="0.334">Female</text>
<text transform="translate(121.59,693.20) scale(1,1.04)" font-size="16" fill="#000" stroke="#000" stroke-width="0.2" letter-spacing="0.548">Male</text>
<rect x="623.30" y="861.50" width="15.00" height="75.10" fill="#029ea5"/>
<rect x="629.80" y="938.50" width="2.00" height="7.00" fill="#000"/>
<text transform="translate(636.10,1006.31) rotate(-90) scale(1,1.04)" font-size="16" fill="#000" stroke="#000" stroke-width="0.2" letter-spacing="0.265">No ICD</text>
<text transform="translate(636.30,861.54) rotate(-90) scale(1,1.04)" font-size="16" fill="#000" stroke="#000" stroke-width="0.2" letter-spacing="0.435"> 77,966</text>
<path transform="translate(636.30,861.54) rotate(-90) scale(1,1.04) translate(0.000,0) scale(0.007812,-0.007812)" d="M583 0L763 0L763 1409L598 1409L223 1180L223 1010L583 1237Z" fill="#000" stroke="#000" stroke-width="25.6"/>
<rect x="641.85" y="891.77" width="15.00" height="44.83" fill="#029ea5"/>
<rect x="648.35" y="938.50" width="2.00" height="7.00" fill="#000"/>
<text transform="translate(654.65,986.31) rotate(-90) scale(1,1.04)" font-size="16" fill="#000" stroke="#000" stroke-width="0.2" letter-spacing="2.170">E78</text>
<text transform="translate(652.99,889.34) rotate(-90) scale(1,1.04)" font-size="16" fill="#000" stroke="#000" stroke-width="0.2" letter-spacing="0.077"> 06,869</text>
<path transform="translate(652.99,889.34) rotate(-90) scale(1,1.04) translate(0.000,0) scale(0.007812,-0.007812)" d="M583 0L763 0L763 1409L598 1409L223 1180L223 1010L583 1237Z" fill="#000" stroke="#000" stroke-width="25.6"/>
<rect x="660.40" y="898.65" width="15.00" height="37.95" fill="#029ea5"/>
<rect x="666.90" y="938.50" width="2.00" height="7.00" fill="#000"/>
<text transform="translate(673.20,980.68) rotate(-90) scale(1,1.04)" font-size="16" fill="#000" stroke="#000" stroke-width="0.2" letter-spacing="2.030">I 0</text>
<path transform="translate(673.20,980.68) rotate(-90) scale(1,1.04) translate(6.475,0) scale(0.007812,-0.007812)" d="M583 0L763 0L763 1409L598 1409L223 1180L223 1010L583 1237Z" fill="#000" stroke="#000" stroke-width="25.6"/>
<text transform="translate(671.57,897.25) rotate(-90) scale(1,1.04)" font-size="16" fill="#000" stroke="#000" stroke-width="0.2" letter-spacing="0.328">90,690</text>
<rect x="678.95" y="911.74" width="15.00" height="24.86" fill="#029ea5"/>
<rect x="685.45" y="938.50" width="2.00" height="7.00" fill="#000"/>
<text transform="translate(691.75,986.31) rotate(-90) scale(1,1.04)" font-size="16" fill="#000" stroke="#000" stroke-width="0.2" letter-spacing="2.041">E  </text>
<path transform="translate(691.75,986.31) rotate(-90) scale(1,1.04) translate(12.713,0) scale(0.007812,-0.007812)" d="M583 0L763 0L763 1409L598 1409L223 1180L223 1010L583 1237Z" fill="#000" stroke="#000" stroke-width="25.6"/>
<path transform="translate(691.75,986.31) rotate(-90) scale(1,1.04) translate(23.652,0) scale(0.007812,-0.007812)" d="M583 0L763 0L763 1409L598 1409L223 1180L223 1010L583 1237Z" fill="#000" stroke="#000" stroke-width="25.6"/>
<text transform="translate(690.16,910.64) rotate(-90) scale(1,1.04)" font-size="16" fill="#000" stroke="#000" stroke-width="0.2" letter-spacing="0.281">59,956</text>
<rect x="697.50" y="922.75" width="15.00" height="13.85" fill="#029ea5"/>
<rect x="704.00" y="938.50" width="2.00" height="7.00" fill="#000"/>
<text transform="translate(710.30,980.68) rotate(-90) scale(1,1.04)" font-size="16" fill="#000" stroke="#000" stroke-width="0.2" letter-spacing="1.653">I25</text>
<text transform="translate(708.75,922.01) rotate(-90) scale(1,1.04)" font-size="16" fill="#000" stroke="#000" stroke-width="0.2" letter-spacing="0.275">34,093</text>
<rect x="716.05" y="927.80" width="15.00" height="8.80" fill="#029ea5"/>
<rect x="722.55" y="938.50" width="2.00" height="7.00" fill="#000"/>
<text transform="translate(728.85,986.31) rotate(-90) scale(1,1.04)" font-size="16" fill="#000" stroke="#000" stroke-width="0.2" letter-spacing="1.178">N 8</text>
<path transform="translate(728.85,986.31) rotate(-90) scale(1,1.04) translate(12.733,0) scale(0.007812,-0.007812)" d="M583 0L763 0L763 1409L598 1409L223 1180L223 1010L583 1237Z" fill="#000" stroke="#000" stroke-width="25.6"/>
<text transform="translate(727.33,926.70) rotate(-90) scale(1,1.04)" font-size="16" fill="#000" stroke="#000" stroke-width="0.2" letter-spacing="0.294">22,2 3</text>
<path transform="translate(727.33,926.70) rotate(-90) scale(1,1.04) translate(32.317,0) scale(0.007812,-0.007812)" d="M583 0L763 0L763 1409L598 1409L223 1180L223 1010L583 1237Z" fill="#000" stroke="#000" stroke-width="25.6"/>
<rect x="734.60" y="929.75" width="15.00" height="6.85" fill="#029ea5"/>
<rect x="741.10" y="938.50" width="2.00" height="7.00" fill="#000"/>
<text transform="translate(747.40,987.11) rotate(-90) scale(1,1.04)" font-size="16" fill="#000" stroke="#000" stroke-width="0.2" letter-spacing="1.215">D64</text>
<text transform="translate(745.92,931.14) rotate(-90) scale(1,1.04)" font-size="16" fill="#000" stroke="#000" stroke-width="0.2" letter-spacing="0.472"> 7,649</text>
<path transform="translate(745.92,931.14) rotate(-90) scale(1,1.04) translate(0.000,0) scale(0.007812,-0.007812)" d="M583 0L763 0L763 1409L598 1409L223 1180L223 1010L583 1237Z" fill="#000" stroke="#000" stroke-width="25.6"/>
<rect x="753.15" y="930.84" width="15.00" height="5.76" fill="#029ea5"/>
<rect x="759.65" y="938.50" width="2.00" height="7.00" fill="#000"/>
<text transform="translate(765.95,986.61) rotate(-90) scale(1,1.04)" font-size="16" fill="#000" stroke="#000" stroke-width="0.2" letter-spacing="1.078">C78</text>
<text transform="translate(764.51,930.74) rotate(-90) scale(1,1.04)" font-size="16" fill="#000" stroke="#000" stroke-width="0.2" letter-spacing="0.149"> 5,08 </text>
<path transform="translate(764.51,930.74) rotate(-90) scale(1,1.04) translate(0.000,0) scale(0.007812,-0.007812)" d="M583 0L763 0L763 1409L598 1409L223 1180L223 1010L583 1237Z" fill="#000" stroke="#000" stroke-width="25.6"/>
<path transform="translate(764.51,930.74) rotate(-90) scale(1,1.04) translate(40.782,0) scale(0.007812,-0.007812)" d="M583 0L763 0L763 1409L598 1409L223 1180L223 1010L583 1237Z" fill="#000" stroke="#000" stroke-width="25.6"/>
<rect x="771.70" y="932.03" width="15.00" height="4.57" fill="#029ea5"/>
<rect x="778.20" y="938.50" width="2.00" height="7.00" fill="#000"/>
<text transform="translate(784.50,986.31) rotate(-90) scale(1,1.04)" font-size="16" fill="#000" stroke="#000" stroke-width="0.2" letter-spacing="1.256">E 4</text>
<path transform="translate(784.50,986.31) rotate(-90) scale(1,1.04) translate(11.928,0) scale(0.007812,-0.007812)" d="M583 0L763 0L763 1409L598 1409L223 1180L223 1010L583 1237Z" fill="#000" stroke="#000" stroke-width="25.6"/>
<text transform="translate(783.09,931.74) rotate(-90) scale(1,1.04)" font-size="16" fill="#000" stroke="#000" stroke-width="0.2" letter-spacing="0.060"> 2,288</text>
<path transform="translate(783.09,931.74) rotate(-90) scale(1,1.04) translate(0.000,0) scale(0.007812,-0.007812)" d="M583 0L763 0L763 1409L598 1409L223 1180L223 1010L583 1237Z" fill="#000" stroke="#000" stroke-width="25.6"/>
<rect x="790.25" y="932.37" width="15.00" height="4.23" fill="#029ea5"/>
<rect x="796.75" y="938.50" width="2.00" height="7.00" fill="#000"/>
<text transform="translate(803.05,986.31) rotate(-90) scale(1,1.04)" font-size="16" fill="#000" stroke="#000" stroke-width="0.2" letter-spacing="1.358">E55</text>
<text transform="translate(801.68,933.74) rotate(-90) scale(1,1.04)" font-size="16" fill="#000" stroke="#000" stroke-width="0.2">  ,486</text>
<path transform="translate(801.68,933.74) rotate(-90) scale(1,1.04) translate(0.000,0) scale(0.007812,-0.007812)" d="M583 0L763 0L763 1409L598 1409L223 1180L223 1010L583 1237Z" fill="#000" stroke="#000" stroke-width="25.6"/>
<path transform="translate(801.68,933.74) rotate(-90) scale(1,1.04) translate(8.898,0) scale(0.007812,-0.007812)" d="M583 0L763 0L763 1409L598 1409L223 1180L223 1010L583 1237Z" fill="#000" stroke="#000" stroke-width="25.6"/>
<rect x="808.80" y="932.42" width="15.00" height="4.18" fill="#029ea5"/>
<rect x="815.30" y="938.50" width="2.00" height="7.00" fill="#000"/>
<text transform="translate(821.60,985.83) rotate(-90) scale(1,1.04)" font-size="16" fill="#000" stroke="#000" stroke-width="0.2" letter-spacing="1.160">A09</text>
<text transform="translate(820.27,933.74) rotate(-90) scale(1,1.04)" font-size="16" fill="#000" stroke="#000" stroke-width="0.2" letter-spacing="-0.060">  ,378</text>
<path transform="translate(820.27,933.74) rotate(-90) scale(1,1.04) translate(0.000,0) scale(0.007812,-0.007812)" d="M583 0L763 0L763 1409L598 1409L223 1180L223 1010L583 1237Z" fill="#000" stroke="#000" stroke-width="25.6"/>
<path transform="translate(820.27,933.74) rotate(-90) scale(1,1.04) translate(8.838,0) scale(0.007812,-0.007812)" d="M583 0L763 0L763 1409L598 1409L223 1180L223 1010L583 1237Z" fill="#000" stroke="#000" stroke-width="25.6"/>
<rect x="827.35" y="932.49" width="15.00" height="4.11" fill="#029ea5"/>
<rect x="833.85" y="938.50" width="2.00" height="7.00" fill="#000"/>
<text transform="translate(840.15,986.61) rotate(-90) scale(1,1.04)" font-size="16" fill="#000" stroke="#000" stroke-width="0.2" letter-spacing="1.043">C50</text>
<text transform="translate(838.85,933.94) rotate(-90) scale(1,1.04)" font-size="16" fill="#000" stroke="#000" stroke-width="0.2">  ,2 6</text>
<path transform="translate(838.85,933.94) rotate(-90) scale(1,1.04) translate(0.000,0) scale(0.007812,-0.007812)" d="M583 0L763 0L763 1409L598 1409L223 1180L223 1010L583 1237Z" fill="#000" stroke="#000" stroke-width="25.6"/>
<path transform="translate(838.85,933.94) rotate(-90) scale(1,1.04) translate(8.898,0) scale(0.007812,-0.007812)" d="M583 0L763 0L763 1409L598 1409L223 1180L223 1010L583 1237Z" fill="#000" stroke="#000" stroke-width="25.6"/>
<path transform="translate(838.85,933.94) rotate(-90) scale(1,1.04) translate(31.141,0) scale(0.007812,-0.007812)" d="M583 0L763 0L763 1409L598 1409L223 1180L223 1010L583 1237Z" fill="#000" stroke="#000" stroke-width="25.6"/>
<rect x="845.90" y="932.57" width="15.00" height="4.03" fill="#029ea5"/>
<rect x="852.40" y="938.50" width="2.00" height="7.00" fill="#000"/>
<text transform="translate(858.70,986.61) rotate(-90) scale(1,1.04)" font-size="16" fill="#000" stroke="#000" stroke-width="0.2" letter-spacing="0.283">C77</text>
<text transform="translate(857.44,933.94) rotate(-90) scale(1,1.04)" font-size="16" fill="#000" stroke="#000" stroke-width="0.2" letter-spacing="-0.020">  ,028</text>
<path transform="translate(857.44,933.94) rotate(-90) scale(1,1.04) translate(0.000,0) scale(0.007812,-0.007812)" d="M583 0L763 0L763 1409L598 1409L223 1180L223 1010L583 1237Z" fill="#000" stroke="#000" stroke-width="25.6"/>
<path transform="translate(857.44,933.94) rotate(-90) scale(1,1.04) translate(8.878,0) scale(0.007812,-0.007812)" d="M583 0L763 0L763 1409L598 1409L223 1180L223 1010L583 1237Z" fill="#000" stroke="#000" stroke-width="25.6"/>
<rect x="864.45" y="932.71" width="15.00" height="3.89" fill="#029ea5"/>
<rect x="870.95" y="938.50" width="2.00" height="7.00" fill="#000"/>
<text transform="translate(877.25,980.68) rotate(-90) scale(1,1.04)" font-size="16" fill="#000" stroke="#000" stroke-width="0.2" letter-spacing="1.665">I48</text>
<text transform="translate(876.03,933.94) rotate(-90) scale(1,1.04)" font-size="16" fill="#000" stroke="#000" stroke-width="0.2" letter-spacing="0.322"> 0,682</text>
<path transform="translate(876.03,933.94) rotate(-90) scale(1,1.04) translate(0.000,0) scale(0.007812,-0.007812)" d="M583 0L763 0L763 1409L598 1409L223 1180L223 1010L583 1237Z" fill="#000" stroke="#000" stroke-width="25.6"/>
<rect x="883.00" y="932.99" width="15.00" height="3.61" fill="#029ea5"/>
<rect x="889.50" y="938.50" width="2.00" height="7.00" fill="#000"/>
<text transform="translate(895.80,987.11) rotate(-90) scale(1,1.04)" font-size="16" fill="#000" stroke="#000" stroke-width="0.2" letter-spacing="1.332">D63</text>
<text transform="translate(894.61,933.94) rotate(-90) scale(1,1.04)" font-size="16" fill="#000" stroke="#000" stroke-width="0.2" letter-spacing="0.286"> 0,030</text>
<path transform="translate(894.61,933.94) rotate(-90) scale(1,1.04) translate(0.000,0) scale(0.007812,-0.007812)" d="M583 0L763 0L763 1409L598 1409L223 1180L223 1010L583 1237Z" fill="#000" stroke="#000" stroke-width="25.6"/>
<rect x="901.55" y="933.06" width="15.00" height="3.54" fill="#029ea5"/>
<rect x="908.05" y="938.50" width="2.00" height="7.00" fill="#000"/>
<text transform="translate(914.35,986.61) rotate(-90) scale(1,1.04)" font-size="16" fill="#000" stroke="#000" stroke-width="0.2" letter-spacing="1.109">C79</text>
<text transform="translate(913.20,932.55) rotate(-90) scale(1,1.04)" font-size="16" fill="#000" stroke="#000" stroke-width="0.2" letter-spacing="0.079">9,872</text>
<rect x="920.10" y="933.48" width="15.00" height="3.12" fill="#029ea5"/>
<rect x="926.60" y="938.50" width="2.00" height="7.00" fill="#000"/>
<text transform="translate(932.90,986.31) rotate(-90) scale(1,1.04)" font-size="16" fill="#000" stroke="#000" stroke-width="0.2" letter-spacing="1.401">K29</text>
<text transform="translate(931.79,932.70) rotate(-90) scale(1,1.04)" font-size="16" fill="#000" stroke="#000" stroke-width="0.2" letter-spacing="-0.219">8,874</text>
<rect x="938.65" y="933.57" width="15.00" height="3.03" fill="#029ea5"/>
<rect x="945.15" y="938.50" width="2.00" height="7.00" fill="#000"/>
<text transform="translate(951.45,986.31) rotate(-90) scale(1,1.04)" font-size="16" fill="#000" stroke="#000" stroke-width="0.2" letter-spacing="0.893">R50</text>
<text transform="translate(950.37,932.70) rotate(-90) scale(1,1.04)" font-size="16" fill="#000" stroke="#000" stroke-width="0.2" letter-spacing="0.240">8,662</text>
<rect x="957.20" y="933.70" width="15.00" height="2.90" fill="#029ea5"/>
<rect x="963.70" y="938.50" width="2.00" height="7.00" fill="#000"/>
<text transform="translate(970.00,986.31) rotate(-90) scale(1,1.04)" font-size="16" fill="#000" stroke="#000" stroke-width="0.2" letter-spacing="1.805">Z95</text>
<text transform="translate(968.96,932.70) rotate(-90) scale(1,1.04)" font-size="16" fill="#000" stroke="#000" stroke-width="0.2" letter-spacing="0.215">8,356</text>
<rect x="975.75" y="933.84" width="15.00" height="2.76" fill="#029ea5"/>
<rect x="982.25" y="938.50" width="2.00" height="7.00" fill="#000"/>
<text transform="translate(988.55,986.31) rotate(-90) scale(1,1.04)" font-size="16" fill="#000" stroke="#000" stroke-width="0.2" letter-spacing="1.373">E03</text>
<text transform="translate(987.55,932.70) rotate(-90) scale(1,1.04)" font-size="16" fill="#000" stroke="#000" stroke-width="0.2" letter-spacing="0.215">8,043</text>
<rect x="994.30" y="933.89" width="15.00" height="2.71" fill="#029ea5"/>
<rect x="1000.80" y="938.50" width="2.00" height="7.00" fill="#000"/>
<text transform="translate(1007.10,980.68) rotate(-90) scale(1,1.04)" font-size="16" fill="#000" stroke="#000" stroke-width="0.2" letter-spacing="1.630">I50</text>
<text transform="translate(1006.13,932.02) rotate(-90) scale(1,1.04)" font-size="16" fill="#000" stroke="#000" stroke-width="0.2" letter-spacing="-0.262">7,924</text>
<rect x="1012.85" y="934.01" width="15.00" height="2.59" fill="#029ea5"/>
<rect x="1019.35" y="938.50" width="2.00" height="7.00" fill="#000"/>
<text transform="translate(1025.65,987.61) rotate(-90) scale(1,1.04)" font-size="16" fill="#000" stroke="#000" stroke-width="0.2" letter-spacing="1.543">D50</text>
<text transform="translate(1024.72,932.02) rotate(-90) scale(1,1.04)" font-size="16" fill="#000" stroke="#000" stroke-width="0.2" letter-spacing="0.046">7,633</text>
<rect x="1031.40" y="934.04" width="15.00" height="2.56" fill="#029ea5"/>
<rect x="1037.90" y="938.50" width="2.00" height="7.00" fill="#000"/>
<text transform="translate(1044.20,986.61) rotate(-90) scale(1,1.04)" font-size="16" fill="#000" stroke="#000" stroke-width="0.2" letter-spacing="1.078">C 8</text>
<path transform="translate(1044.20,986.61) rotate(-90) scale(1,1.04) translate(12.633,0) scale(0.007812,-0.007812)" d="M583 0L763 0L763 1409L598 1409L223 1180L223 1010L583 1237Z" fill="#000" stroke="#000" stroke-width="25.6"/>
<text transform="translate(1043.31,932.02) rotate(-90) scale(1,1.04)" font-size="16" fill="#000" stroke="#000" stroke-width="0.2" letter-spacing="0.060">7,569</text>
<rect x="1049.95" y="934.05" width="15.00" height="2.55" fill="#029ea5"/>
<rect x="1056.45" y="938.50" width="2.00" height="7.00" fill="#000"/>
<text transform="translate(1062.75,980.68) rotate(-90) scale(1,1.04)" font-size="16" fill="#000" stroke="#000" stroke-width="0.2" letter-spacing="1.669">I63</text>
<text transform="translate(1061.89,932.02) rotate(-90) scale(1,1.04)" font-size="16" fill="#000" stroke="#000" stroke-width="0.2" letter-spacing="-0.179">7,547</text>
<rect x="1068.50" y="934.05" width="15.00" height="2.55" fill="#029ea5"/>
<rect x="1075.00" y="938.50" width="2.00" height="7.00" fill="#000"/>
<text transform="translate(1081.30,987.11) rotate(-90) scale(1,1.04)" font-size="16" fill="#000" stroke="#000" stroke-width="0.2" letter-spacing="1.293">N30</text>
<text transform="translate(1080.48,932.02) rotate(-90) scale(1,1.04)" font-size="16" fill="#000" stroke="#000" stroke-width="0.2" letter-spacing="-0.098">7,530</text>
<rect x="1087.05" y="934.10" width="15.00" height="2.50" fill="#029ea5"/>
<rect x="1093.55" y="938.50" width="2.00" height="7.00" fill="#000"/>
<text transform="translate(1099.85,986.61) rotate(-90) scale(1,1.04)" font-size="16" fill="#000" stroke="#000" stroke-width="0.2" letter-spacing="0.965">C34</text>
<text transform="translate(1099.07,932.02) rotate(-90) scale(1,1.04)" font-size="16" fill="#000" stroke="#000" stroke-width="0.2" letter-spacing="0.105">7,43 </text>
<path transform="translate(1099.07,932.02) rotate(-90) scale(1,1.04) translate(31.560,0) scale(0.007812,-0.007812)" d="M583 0L763 0L763 1409L598 1409L223 1180L223 1010L583 1237Z" fill="#000" stroke="#000" stroke-width="25.6"/>
<rect x="1105.60" y="934.32" width="15.00" height="2.28" fill="#029ea5"/>
<rect x="1112.10" y="938.50" width="2.00" height="7.00" fill="#000"/>
<text transform="translate(1118.40,990.01) rotate(-90) scale(1,1.04)" font-size="16" fill="#000" stroke="#000" stroke-width="0.2" letter-spacing="1.856">M 0</text>
<path transform="translate(1118.40,990.01) rotate(-90) scale(1,1.04) translate(15.184,0) scale(0.007812,-0.007812)" d="M583 0L763 0L763 1409L598 1409L223 1180L223 1010L583 1237Z" fill="#000" stroke="#000" stroke-width="25.6"/>
<text transform="translate(1117.65,933.01) rotate(-90) scale(1,1.04)" font-size="16" fill="#000" stroke="#000" stroke-width="0.2" letter-spacing="0.286">6,905</text>
<rect x="1124.15" y="934.33" width="15.00" height="2.27" fill="#029ea5"/>
<rect x="1130.65" y="938.50" width="2.00" height="7.00" fill="#000"/>
<text transform="translate(1136.95,986.31) rotate(-90) scale(1,1.04)" font-size="16" fill="#000" stroke="#000" stroke-width="0.2" letter-spacing="1.358">E05</text>
<text transform="translate(1136.24,933.01) rotate(-90) scale(1,1.04)" font-size="16" fill="#000" stroke="#000" stroke-width="0.2" letter-spacing="0.294">6,893</text>
<rect x="1142.70" y="934.33" width="15.00" height="2.27" fill="#029ea5"/>
<rect x="1149.20" y="938.50" width="2.00" height="7.00" fill="#000"/>
<text transform="translate(1155.50,987.50) rotate(-90) scale(1,1.04)" font-size="16" fill="#000" stroke="#000" stroke-width="0.2" letter-spacing="0.966">G44</text>
<text transform="translate(1154.83,933.01) rotate(-90) scale(1,1.04)" font-size="16" fill="#000" stroke="#000" stroke-width="0.2" letter-spacing="0.286">6,875</text>
<rect x="1161.25" y="934.35" width="15.00" height="2.25" fill="#029ea5"/>
<rect x="1167.75" y="938.50" width="2.00" height="7.00" fill="#000"/>
<text transform="translate(1174.05,986.31) rotate(-90) scale(1,1.04)" font-size="16" fill="#000" stroke="#000" stroke-width="0.2" letter-spacing="1.373">E66</text>
<text transform="translate(1173.41,933.01) rotate(-90) scale(1,1.04)" font-size="16" fill="#000" stroke="#000" stroke-width="0.2" letter-spacing="0.286">6,825</text>
<rect x="1179.80" y="665.10" width="15.00" height="271.50" fill="#029ea5"/>
<rect x="1186.30" y="938.50" width="2.00" height="7.00" fill="#000"/>
<text transform="translate(1192.60,1001.16) rotate(-90) scale(1,1.04)" font-size="16" fill="#000" stroke="#000" stroke-width="0.2" letter-spacing="1.452">Other</text>
<text transform="translate(1192.90,933.01) rotate(-90) scale(1,1.04)" font-size="16" fill="#ffffff" stroke="#ffffff" stroke-width="0.2" letter-spacing="0.313">639,3 3</text>
<path transform="translate(1192.90,933.01) rotate(-90) scale(1,1.04) translate(41.605,0) scale(0.007812,-0.007812)" d="M583 0L763 0L763 1409L598 1409L223 1180L223 1010L583 1237Z" fill="#ffffff" stroke="#ffffff" stroke-width="25.6"/>
<rect x="621.70" y="651.20" width="2.00" height="287.30" fill="#000"/>
<rect x="613.50" y="936.50" width="584.40" height="2.00" fill="#000"/>
<rect x="613.50" y="893.69" width="8.50" height="2.00" fill="#000"/>
<text transform="translate(550.19,900.89) scale(1,1.04)" font-size="16" fill="#000" stroke="#000" stroke-width="0.2" letter-spacing="0.150"> 00,000</text>
<path transform="translate(550.19,900.89) scale(1,1.04) translate(0.000,0) scale(0.007812,-0.007812)" d="M583 0L763 0L763 1409L598 1409L223 1180L223 1010L583 1237Z" fill="#000" stroke="#000" stroke-width="25.6"/>
<rect x="613.50" y="851.12" width="8.50" height="2.00" fill="#000"/>
<text transform="translate(550.19,858.32) scale(1,1.04)" font-size="16" fill="#000" stroke="#000" stroke-width="0.2" letter-spacing="0.150">200,000</text>
<rect x="613.50" y="808.55" width="8.50" height="2.00" fill="#000"/>
<text transform="translate(550.19,815.75) scale(1,1.04)" font-size="16" fill="#000" stroke="#000" stroke-width="0.2" letter-spacing="0.150">300,000</text>
<rect x="613.50" y="765.98" width="8.50" height="2.00" fill="#000"/>
<text transform="translate(550.19,773.18) scale(1,1.04)" font-size="16" fill="#000" stroke="#000" stroke-width="0.2" letter-spacing="0.150">400,000</text>
<rect x="613.50" y="723.41" width="8.50" height="2.00" fill="#000"/>
<text transform="translate(550.19,730.61) scale(1,1.04)" font-size="16" fill="#000" stroke="#000" stroke-width="0.2" letter-spacing="0.150">500,000</text>
<rect x="613.50" y="680.84" width="8.50" height="2.00" fill="#000"/>
<text transform="translate(550.19,688.04) scale(1,1.04)" font-size="16" fill="#000" stroke="#000" stroke-width="0.2" letter-spacing="0.150">600,000</text>
<text transform="translate(600.13,943.46) scale(1,1.04)" font-size="16" fill="#000" stroke="#000" stroke-width="0.2">0</text>
<text transform="translate(872.22,1017.00) scale(1,1.04)" font-size="16" fill="#000" stroke="#000" stroke-width="0.2" letter-spacing="0.462">ICD Code</text>
<text transform="translate(544.60,868.01) rotate(-90) scale(1,1.04)" font-size="16" fill="#000" stroke="#000" stroke-width="0.2" letter-spacing="0.325">Number of Samples</text>
</svg>
</body></html>
